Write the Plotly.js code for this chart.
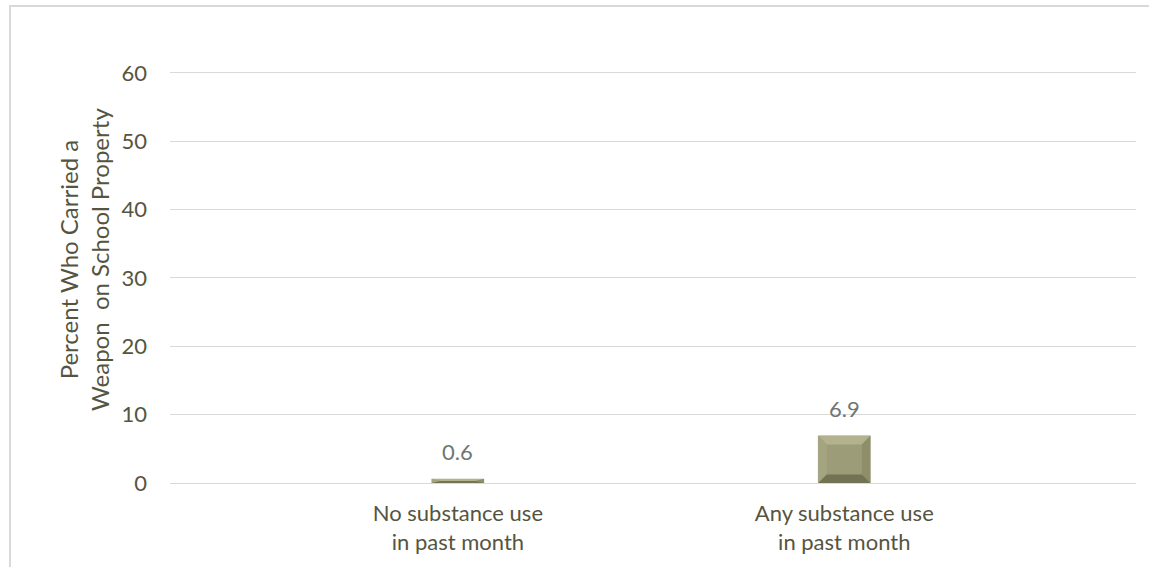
<!DOCTYPE html>
<html>
<head>
<meta charset="utf-8">
<script src="https://cdn.plot.ly/plotly-3.0.1.min.js"></script>
<style>
  html, body { margin: 0; padding: 0; background: #ffffff; overflow: hidden; }
  #frame { position: absolute; left: 9px; top: 5px; width: 1140px; height: 562px;
           border-left: 2px solid #d9d9d9; border-top: 2px solid #d9d9d9; box-sizing: border-box; }
  #chart { position: absolute; left: 0; top: 0; width: 1138px; height: 560px; }
</style>
</head>
<body>
<div id="frame"><div id="chart"></div></div>
<script>
// Data
const categories = ["No substance use<br>in past month", "Any substance use<br>in past month"];
const values = [0.6, 6.9];
const yTicks = [0, 10, 20, 30, 40, 50, 60];
const yTitle = "Percent Who Carried a<br>Weapon  on School Property";

const xPos = categories.map((c, i) => i);
const barWidth = 0.135;
const faceColor = "#9c9c78";
const font = "Lato, 'Open Sans', sans-serif";
const fs = 22;

const traces = [{
  type: "bar",
  x: xPos,
  y: values,
  width: barWidth,
  marker: { color: faceColor, line: { color: "#b4b494", width: 0.5 } },
  hoverinfo: "skip",
  showlegend: false
}];

// bevel facets computed from the data values
const bx = 0.022, byMax = 1.25;
values.forEach((v, i) => {
  const x0 = xPos[i] - barWidth / 2, x1 = xPos[i] + barWidth / 2;
  const by = Math.min(byMax, v / 2);
  const bxx = bx;
  const facets = [
    { xs: [x0, x1, x1 - bxx, x0 + bxx, x0], ys: [v, v, v - by, v - by, v], c: "#b2b28e" },
    { xs: [x0, x0 + bxx, x0 + bxx, x0, x0], ys: [v, v - by, by, 0, v], c: "#a4a480" },
    { xs: [x1, x1 - bxx, x1 - bxx, x1, x1], ys: [v, v - by, by, 0, v], c: "#8e8e6b" },
    { xs: [x0, x1, x1 - bxx, x0 + bxx, x0], ys: [0, 0, by, by, 0], c: "#727255" }
  ];
  facets.forEach(f => traces.push({
    type: "scatter", mode: "lines", x: f.xs, y: f.ys, fill: "toself",
    fillcolor: f.c, line: { width: 0 }, hoverinfo: "skip", showlegend: false
  }));
});

const annotations = values.map((v, i) => ({
  x: xPos[i], y: v, xref: "x", yref: "y", text: v.toFixed(1),
  showarrow: false, yanchor: "bottom", yshift: 12,
  font: { family: font, size: fs, color: "#6f7676" }
}));
annotations.push({
  text: yTitle, xref: "paper", yref: "paper", x: -0.089, y: 0.535,
  xanchor: "center", yanchor: "middle", textangle: -90, showarrow: false,
  align: "center", font: { family: font, size: 24, color: "#55553f" }
});

const layout = {
  width: 1138, height: 560,
  margin: { l: 159, r: 13, t: 59, b: 84, pad: 0 },
  paper_bgcolor: "#ffffff", plot_bgcolor: "#ffffff",
  font: { family: font, size: fs, color: "#55553f" },
  xaxis: {
    range: [-0.745, 1.755], tickvals: xPos, ticktext: categories,
    showgrid: false, zeroline: false, showline: false, ticks: "",
    ticklabelstandoff: 15,
    tickfont: { family: font, size: fs, color: "#55553f" }, fixedrange: true
  },
  yaxis: {
    range: [0, 61], tickvals: yTicks, ticktext: yTicks.map(String),
    showgrid: true, gridcolor: "#d9d9d9", gridwidth: 1,
    zeroline: true, zerolinecolor: "#d9d9d9", zerolinewidth: 1,
    showline: false, ticks: "", ticklen: 0, automargin: false,
    ticklabelstandoff: 22,
    tickfont: { family: font, size: fs, color: "#55553f" }
  },
  annotations: annotations,
  showlegend: false
};

Plotly.newPlot("chart", traces, layout, { displayModeBar: false, staticPlot: true });
</script>
</body>
</html>
